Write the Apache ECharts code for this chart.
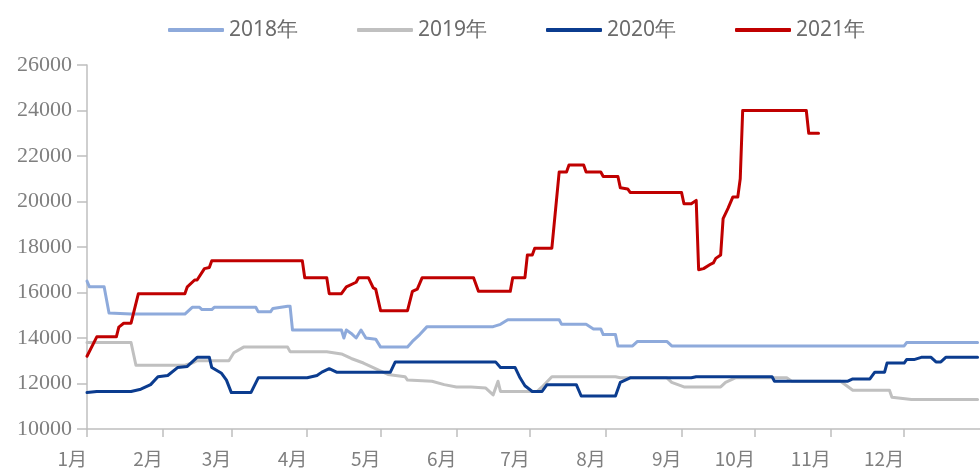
<!DOCTYPE html>
<html>
<head>
<meta charset="utf-8">
<title>价格走势</title>
<script src="https://cdn.jsdelivr.net/npm/echarts@6/dist/echarts.min.js"></script>
<style>
  html, body { margin: 0; padding: 0; background: #ffffff; }
  #chart { width: 980px; height: 469px; }
</style>
</head>
<body>
<div id="chart"></div>
<script>
// Month labels shown on the x axis
const monthLabels = ['1月', '2月', '3月', '4月', '5月', '6月', '7月', '8月', '9月', '10月', '11月', '12月'];
// Legend names
const seriesNames = ['2018年', '2019年', '2020年', '2021年'];
// Y axis range
const yMin = 10000;
const yMax = 26000;
const yStep = 2000;

// Price change points per year: [month-day, price]
const prices2018 = [
  ['01-01', 16500], ['01-02', 16250], ['01-08', 16250], ['01-10', 15100], ['01-19', 15050],
  ['02-10', 15050], ['02-13', 15350], ['02-16', 15350], ['02-17', 15250], ['02-21', 15250],
  ['02-22', 15350], ['03-11', 15350], ['03-12', 15150], ['03-17', 15150], ['03-18', 15300],
  ['03-24', 15400], ['03-25', 15400], ['03-26', 14350], ['04-15', 14350], ['04-16', 14000],
  ['04-17', 14350], ['04-19', 14200], ['04-21', 14000], ['04-23', 14350], ['04-25', 14000],
  ['04-29', 13950], ['05-01', 13600], ['05-12', 13600], ['05-14', 13850], ['05-17', 14150],
  ['05-20', 14500], ['06-16', 14500], ['06-19', 14600], ['06-22', 14800], ['07-13', 14800],
  ['07-14', 14600], ['07-24', 14600], ['07-27', 14400], ['07-30', 14400], ['07-31', 14150],
  ['08-05', 14150], ['08-06', 13650], ['08-12', 13650], ['08-14', 13850], ['08-26', 13850],
  ['08-28', 13650], ['12-01', 13650], ['12-02', 13800], ['12-31', 13800]
];

const prices2019 = [
  ['01-01', 13800], ['01-19', 13800], ['01-21', 12800], ['02-10', 12800], ['02-13', 12900],
  ['02-15', 13000], ['02-28', 13000], ['03-02', 13350], ['03-06', 13600], ['03-24', 13600],
  ['03-25', 13400], ['04-09', 13400], ['04-15', 13300], ['04-19', 13100], ['04-24', 12900],
  ['04-28', 12700], ['05-04', 12400], ['05-11', 12300], ['05-12', 12150], ['05-22', 12100],
  ['05-27', 11950], ['06-01', 11850], ['06-07', 11850], ['06-13', 11800], ['06-16', 11500],
  ['06-18', 12100], ['06-19', 11650], ['07-04', 11650], ['07-06', 11850], ['07-10', 12300],
  ['08-05', 12300], ['08-07', 12250], ['08-26', 12250], ['08-28', 12050], ['09-02', 11850],
  ['09-17', 11850], ['09-19', 12050], ['09-23', 12250], ['10-14', 12250], ['10-16', 12100],
  ['11-05', 12100], ['11-10', 11700], ['11-25', 11700], ['11-26', 11400], ['12-04', 11300],
  ['12-31', 11300]
];

const prices2020 = [
  ['01-01', 11600], ['01-05', 11650], ['01-19', 11650], ['01-23', 11750], ['01-27', 11950],
  ['01-30', 12300], ['02-03', 12350], ['02-07', 12700], ['02-11', 12750], ['02-15', 13150],
  ['02-20', 13150], ['02-21', 12700], ['02-25', 12450], ['02-27', 12150], ['03-01', 11600],
  ['03-09', 11600], ['03-12', 12250], ['04-01', 12250], ['04-05', 12350], ['04-07', 12500],
  ['04-10', 12650], ['04-13', 12500], ['05-05', 12500], ['05-07', 12950], ['06-17', 12950],
  ['06-19', 12700], ['06-25', 12700], ['06-27', 12250], ['06-29', 11900], ['07-02', 11650],
  ['07-06', 11650], ['07-08', 11950], ['07-20', 11950], ['07-22', 11450], ['08-05', 11450],
  ['08-07', 12050], ['08-11', 12250], ['09-05', 12250], ['09-07', 12300], ['10-08', 12300],
  ['10-09', 12100], ['11-08', 12100], ['11-10', 12200], ['11-17', 12200], ['11-19', 12500],
  ['11-23', 12500], ['11-24', 12900], ['12-01', 12900], ['12-02', 13050], ['12-05', 13050],
  ['12-08', 13150], ['12-12', 13150], ['12-14', 12950], ['12-16', 12950], ['12-18', 13150],
  ['12-31', 13150]
];

const prices2021 = [
  ['01-01', 13200], ['01-05', 14050], ['01-13', 14050], ['01-14', 14480], ['01-16', 14650],
  ['01-19', 14650], ['01-22', 15950], ['02-10', 15950], ['02-11', 16250], ['02-14', 16550],
  ['02-15', 16550], ['02-18', 17050], ['02-20', 17100], ['02-21', 17400], ['03-30', 17400],
  ['03-31', 16650], ['04-09', 16650], ['04-10', 15950], ['04-15', 15950], ['04-17', 16250],
  ['04-21', 16450], ['04-22', 16650], ['04-26', 16650], ['04-28', 16200], ['04-29', 16150],
  ['05-01', 15200], ['05-12', 15200], ['05-14', 16050], ['05-16', 16150], ['05-18', 16650],
  ['06-08', 16650], ['06-10', 16050], ['06-23', 16050], ['06-24', 16650], ['06-29', 16650],
  ['06-30', 17650], ['07-02', 17650], ['07-03', 17950], ['07-10', 17950], ['07-13', 21300],
  ['07-16', 21300], ['07-17', 21600], ['07-23', 21600], ['07-24', 21300], ['07-30', 21300],
  ['07-31', 21100], ['08-06', 21100], ['08-07', 20600], ['08-10', 20550], ['08-11', 20400],
  ['09-01', 20400], ['09-02', 19900], ['09-05', 19900], ['09-07', 20050], ['09-08', 17000],
  ['09-10', 17050], ['09-13', 17250], ['09-14', 17300], ['09-15', 17500], ['09-17', 17650],
  ['09-18', 19250], ['09-20', 19700], ['09-22', 20200], ['09-24', 20200], ['09-25', 21000],
  ['09-26', 24000], ['10-22', 24000], ['10-23', 23000], ['10-27', 23000]
];

const lineColors = ['#8eaadb', '#c0c0c0', '#0b3c8f', '#c00000'];

// Day offset of each month start in a 365-day calendar
const monthStarts = [0, 31, 59, 90, 120, 151, 181, 212, 243, 273, 304, 334];

function dayOfYear(md) {
  const [m, d] = md.split('-').map(Number);
  return monthStarts[m - 1] + d - 1;
}

function toPoints(list) {
  return list.map(([md, v]) => [dayOfYear(md), v]);
}

const allSeries = [prices2018, prices2019, prices2020, prices2021];

const chart = echarts.init(document.getElementById('chart'), null, { renderer: 'canvas' });

const axisGray = '#bfbfbf';

chart.setOption({
  animation: false,
  backgroundColor: '#ffffff',
  legend: {
    left: 163,
    top: 13,
    itemWidth: 56,
    itemHeight: 4,
    itemGap: 58,
    icon: 'roundRect',
    textStyle: {
      fontFamily: 'Noto Sans',
      fontSize: 21,
      color: '#6b6b6b',
      width: 70,
      lineHeight: 24
    },
    data: seriesNames
  },
  grid: {
    left: 87,
    right: -14,
    top: 65,
    bottom: 40,
    containLabel: false
  },
  xAxis: {
    type: 'value',
    min: 0,
    max: 365,
    splitLine: { show: false },
    axisLine: { show: true, lineStyle: { color: axisGray, width: 1.5 } },
    axisTick: {
      show: true,
      length: 8,
      customValues: monthStarts,
      lineStyle: { color: axisGray, width: 1.5 }
    },
    axisLabel: {
      customValues: monthStarts,
      formatter: (v) => monthLabels[monthStarts.indexOf(v)],
      align: 'right',
      margin: 20,
      fontFamily: 'Noto Sans CJK SC',
      fontSize: 19,
      color: '#7f7f7f'
    }
  },
  yAxis: {
    type: 'value',
    min: yMin,
    max: yMax,
    interval: yStep,
    splitLine: { show: false },
    axisLine: { show: true, lineStyle: { color: axisGray, width: 1.5 } },
    axisTick: { show: true, length: 10, lineStyle: { color: axisGray, width: 1.5 } },
    axisLabel: {
      margin: 15,
      formatter: (v) => String(v),
      fontFamily: 'Liberation Serif',
      fontSize: 22,
      color: '#7f7f7f'
    }
  },
  series: allSeries.map((list, i) => ({
    name: seriesNames[i],
    type: 'line',
    data: toPoints(list),
    showSymbol: false,
    symbol: 'none',
    color: lineColors[i],
    lineStyle: { width: 3, color: lineColors[i], cap: 'round', join: 'round' },
    z: 2 + i
  }))
});
</script>
</body>
</html>
